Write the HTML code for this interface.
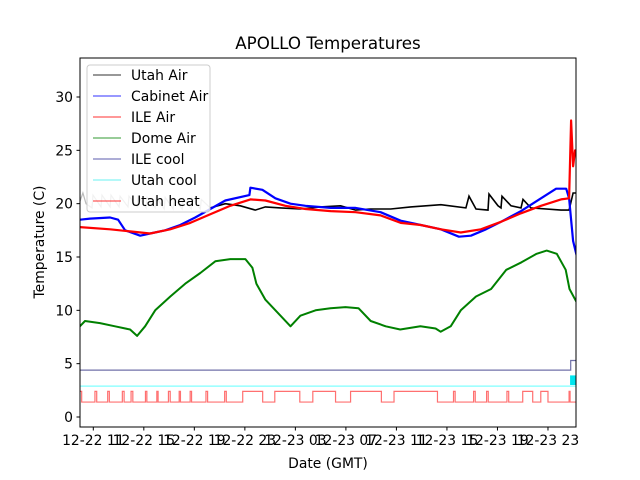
<!DOCTYPE html>
<html><head><meta charset="utf-8">
<style>
body{margin:0;background:#fff;}
svg{display:block;font-family:"DejaVu Sans","Liberation Sans",sans-serif;}
</style></head>
<body>
<svg id="chart" width="640" height="480" viewBox="0 0 640 480">
<rect width="640" height="480" fill="#fff"/>
<text x="328" y="49" font-size="16.7" text-anchor="middle">APOLLO Temperatures</text>
<g id="plot"></g>
<text x="328" y="468" font-size="13.9" text-anchor="middle">Date (GMT)</text>
<text x="44" y="242" font-size="13.9" text-anchor="middle" transform="rotate(-90 44 242)">Temperature (C)</text>
</svg>
<script>
// Time in hours since 12-22 11:00 GMT
const xTickHours = [0,4,8,12,16,20,24,28,32,36];
const xTickLabels = ["12-22 11","12-22 15","12-22 19","12-22 23","12-23 03","12-23 07","12-23 11","12-23 15","12-23 19","12-23 23"];
const yTicks = [0,5,10,15,20,25,30];

const utahAirT = [-1.06,-0.82,-0.58,-0.10,-0.02,0.61,0.69,1.33,1.40,2.04,2.12,2.75,2.83,3.47,3.55,4.18,4.26,4.90,4.98,5.61,5.69,6.33,6.40,7.04,7.12,7.75,7.83,8.47,8.55,9.26,10.45,11.64,12.83,13.63,14.82,16.40,17.99,19.58,20.77,21.96,23.55,25.13,27.52,29.5,29.75,30.3,31.25,31.33,32.04,32.28,32.36,33.07,33.86,34.02,34.65,37.03,37.67,37.99,38.3];
const utahAirV = [20.2,21,20,19.6,20.8,19.7,20.8,19.7,20.8,19.7,20.7,19.7,20.7,19.7,20.7,19.6,20.6,19.6,20.6,19.5,20.6,19.5,20.5,19.5,20.5,19.5,20.5,19.5,20.4,19.6,20,19.8,19.4,19.7,19.6,19.5,19.7,19.8,19.4,19.5,19.5,19.7,19.9,19.6,20.7,19.5,19.4,20.9,19.8,19.6,20.7,19.8,19.6,20.4,19.6,19.4,19.4,21,21];
const cabinetT = [-1.06,-0.26,1.33,1.96,2.52,3.71,4.5,5.69,6.88,8.07,9.26,10.45,12.36,12.44,13.39,14.42,15.61,16.80,18.79,20.77,22.75,24.34,25.93,27.52,28.95,29.9,31.09,32.28,33.86,35.45,36.64,37.44,37.67,37.99,38.3];
const cabinetV = [18.5,18.6,18.7,18.5,17.5,17,17.2,17.5,18,18.7,19.5,20.3,20.8,21.5,21.3,20.5,20,19.8,19.6,19.6,19.2,18.4,18,17.6,16.9,17,17.6,18.3,19.3,20.5,21.4,21.4,20.5,16.5,15];
const ileAirT = [-1.06,1.33,2.91,4.5,6.09,7.67,9.26,10.85,12.44,13.63,15.21,16.8,18.79,20.77,22.75,24.34,25.93,27.52,29.1,30.69,32.28,33.86,35.45,37.03,37.67,37.83,37.99,38.15,38.3];
const ileAirV = [17.8,17.6,17.4,17.2,17.6,18.2,19,19.8,20.4,20.3,19.8,19.5,19.3,19.2,18.9,18.2,18,17.6,17.3,17.6,18.3,19.1,19.8,20.4,20.5,27.8,23.5,25,24.5];
const domeT = [-1.06,-0.66,0.53,1.72,2.91,3.47,4.1,4.9,6.1,7.28,8.47,9.66,10.85,12.04,12.6,12.91,13.63,14.82,15.61,16.4,17.6,18.78,19.97,21,21.96,23.15,24.3,25.9,27.1,27.5,28.3,29.1,30.3,31.5,32.7,33.9,35.1,35.9,36.7,37.4,37.7,38.3];
const domeV = [8.5,9,8.8,8.5,8.2,7.6,8.5,10,11.3,12.5,13.5,14.6,14.8,14.8,14,12.5,11,9.5,8.5,9.5,10,10.2,10.3,10.2,9,8.5,8.2,8.5,8.3,8,8.5,10,11.3,12,13.8,14.5,15.3,15.6,15.3,13.8,12,10.7];
const ileCoolT = [-1.06,37.8,37.8,38.3];
const ileCoolV = [4.4,4.4,5.3,5.3];
const utahCoolT = [-1.06,38.3];
const utahCoolV = [2.9,2.9];
const utahCoolBlock = [37.75,38.2,3.0,3.9]; // t0,t1,v0,v1
const heatLowStart = [-0.92,0.27,1.27,2.44,3.13,4.24,5.13,6.09,6.90,7.78,9.05,10.53,13.41,16.35,19.18,22.81,27.25,28.65,30.24,31.27,32.89,34.79,36.0,37.75];
const heatLowEnd   = [0.13,1.14,2.30,2.99,4.13,5.03,5.95,6.80,7.67,8.92,10.40,11.83,14.37,17.38,20.37,23.81,28.52,30.11,31.14,32.75,34.0,35.43,37.67,38.3];
const heatLow = 1.4, heatHigh = 2.4;

const L=80,R=576,T=58,B=427;
const X = t => 93.3 + t*12.63;
const Y = v => 417 - v*10.667;
const NS="http://www.w3.org/2000/svg";
const plot=document.getElementById('plot');
function mk(tag,attrs,parent){const e=document.createElementNS(NS,tag);for(const k in attrs)e.setAttribute(k,attrs[k]);(parent||plot).appendChild(e);return e;}
function pathFrom(ts,vs){return ts.map((t,i)=>(i?'L':'M')+X(t).toFixed(1)+','+Y(vs[i]).toFixed(1)).join('');}

// clip
const defs=mk('defs',{});
const cp=mk('clipPath',{id:'clip'},defs);
mk('rect',{x:L,y:T,width:R-L,height:B-T},cp);
const g=mk('g',{'clip-path':'url(#clip)'});

// Utah heat step
let hd='M'+X(-1.06)+','+Y(heatHigh);
heatLowStart.forEach((s,i)=>{hd+='L'+X(s)+','+Y(heatHigh)+'L'+X(s)+','+Y(heatLow)+'L'+X(heatLowEnd[i])+','+Y(heatLow)+'L'+X(heatLowEnd[i])+','+Y(heatHigh);});
const heat=mk('path',{d:hd,fill:'none',stroke:'#ff7070','stroke-width':1.2},g);


// Utah cool
const uc=mk('path',{d:pathFrom(utahCoolT,utahCoolV),fill:'none',stroke:'#80ffff','stroke-width':1.2},g);


const ucb=mk('rect',{x:X(utahCoolBlock[0]),y:Y(utahCoolBlock[3]),width:X(utahCoolBlock[1])-X(utahCoolBlock[0]),height:Y(utahCoolBlock[2])-Y(utahCoolBlock[3]),fill:'#00e5ee'},g);


// ILE cool
const ic=mk('path',{d:pathFrom(ileCoolT,ileCoolV),fill:'none',stroke:'#7070a8','stroke-width':1.2},g);


// Dome air
const dm=mk('path',{d:pathFrom(domeT,domeV),fill:'none',stroke:'green','stroke-width':2,'stroke-linejoin':'round'},g);


// Utah air: light portion + dark portion
const split=utahAirT.findIndex(t=>t>=9.26);
const ua1=mk('path',{d:pathFrom(utahAirT.slice(0,split+1),utahAirV.slice(0,split+1)),fill:'none',stroke:'#bbb','stroke-width':1.2},g);


const ua2=mk('path',{d:pathFrom(utahAirT.slice(split),utahAirV.slice(split)),fill:'none',stroke:'#000','stroke-width':1.6},g);


// Cabinet air
const cb=mk('path',{d:pathFrom(cabinetT,cabinetV),fill:'none',stroke:'blue','stroke-width':2.2,'stroke-linejoin':'round'},g);


// ILE air
const ia=mk('path',{d:pathFrom(ileAirT,ileAirV),fill:'none',stroke:'red','stroke-width':2.2,'stroke-linejoin':'round'},g);



// axes frame
const fr=mk('rect',{x:L,y:T,width:R-L,height:B-T,fill:'none',stroke:'#000','stroke-width':1});


// y ticks
yTicks.forEach(v=>{
  const y=Y(v);
  const tk=mk('line',{x1:L-3.5,x2:L,y1:y,y2:y,stroke:'#000'});
  
  
  const tx=mk('text',{x:L-7,y:y+5,'font-size':13.9,'text-anchor':'end'});
  tx.textContent=v;
  
  
});
// x ticks
xTickHours.forEach((h,i)=>{
  const x=X(h);
  const tk=mk('line',{x1:x,x2:x,y1:B,y2:B+3.5,stroke:'#000'});
  
  
  const tx=mk('text',{x:x,y:B+18,'font-size':13.9,'text-anchor':'middle'});
  tx.textContent=xTickLabels[i];
  
  
});
// legend
const legNames=["Utah Air","Cabinet Air","ILE Air","Dome Air","ILE cool","Utah cool","Utah heat"];
const legColors=["#000","blue","red","green","#333399","#44eeee","red"];
const lg=mk('g',{});


mk('rect',{x:87,y:65,width:123,height:147,rx:3,fill:'rgba(255,255,255,0.8)',stroke:'#ccc'},lg);
legNames.forEach((n,i)=>{
  const y=75+i*21;
  const ln=mk('line',{x1:93,x2:121,y1:y,y2:y,stroke:legColors[i],'stroke-width':1,opacity:0.8},lg);
  
  
  const tx=mk('text',{x:131,y:y+5,'font-size':13.9},lg);
  tx.textContent=n;
  
  
});
</script>
</body></html>
